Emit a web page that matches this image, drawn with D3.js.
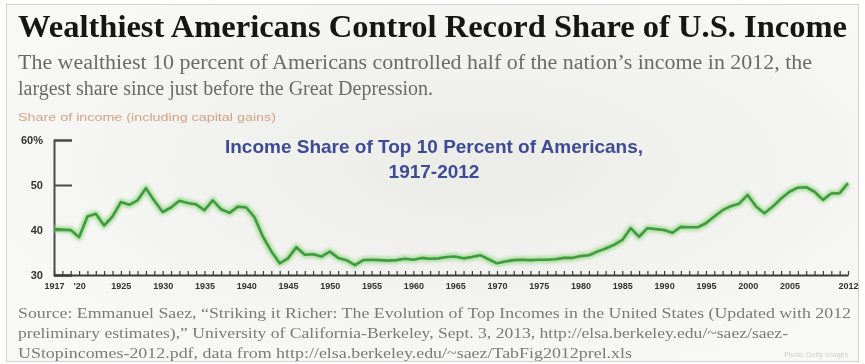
<!DOCTYPE html>
<html>
<head>
<meta charset="utf-8">
<script src="https://cdn.jsdelivr.net/npm/d3@7"></script>
<style>
  body { margin: 0; background: #ffffff; }
  svg { display: block; }
</style>
</head>
<body>
<svg id="chart" width="865" height="364"></svg>
<script>
// Income share of the top 10 percent (incl. capital gains), 1917-2012
const years = d3.range(1917, 2013);
const topTenShare = [
  40.2, 40.1, 40.0, 38.4, 43.0, 43.6, 41.0, 43.0, 46.2, 45.6,   // 1917-1926
  46.6, 49.3, 46.5, 44.0, 45.0, 46.5, 46.0, 45.7, 44.4, 46.6,   // 1927-1936
  44.6, 43.8, 45.2, 45.0, 42.8, 38.5, 35.3, 32.6, 33.7, 36.2,   // 1937-1946
  34.5, 34.6, 34.1, 35.2, 33.8, 33.3, 32.2, 33.3, 33.4, 33.3,   // 1947-1956
  33.2, 33.3, 33.6, 33.4, 33.8, 33.6, 33.7, 34.0, 34.1, 33.7,   // 1957-1966
  34.0, 34.4, 33.5, 32.6, 33.0, 33.3, 33.4, 33.3, 33.4, 33.4,   // 1967-1976
  33.5, 33.8, 33.8, 34.2, 34.4, 35.2, 35.9, 36.7, 37.8, 40.4,   // 1977-1986
  38.5, 40.4, 40.2, 40.0, 39.4, 40.7, 40.6, 40.6, 41.5, 43.0,   // 1987-1996
  44.4, 45.3, 45.9, 47.8, 45.2, 43.7, 45.2, 47.0, 48.5, 49.4,   // 1997-2006
  49.5, 48.5, 46.7, 48.1, 48.2, 50.4                            // 2007-2012
];

const yTicks = [30, 40, 50, 60];
const yTickLabels = ["30", "40", "50", "60%"];
const xTickYears = [1917, 1920, 1925, 1930, 1935, 1940, 1945, 1950, 1955, 1960,
                    1965, 1970, 1975, 1980, 1985, 1990, 1995, 2000, 2005, 2012];
const xTickLabels = ["1917", "'20", "1925", "1930", "1935", "1940", "1945", "1950", "1955", "1960",
                     "1965", "1970", "1975", "1980", "1985", "1990", "1995", "2000", "2005", "2012"];

const titleText = "Wealthiest Americans Control Record Share of U.S. Income";
const subtitleLines = [
  "The wealthiest 10 percent of Americans controlled half of the nation\u2019s income in 2012, the",
  "largest share since just before the Great Depression."
];
const axisTitleText = "Share of income (including capital gains)";
const chartHeadLines = ["Income Share of Top 10 Percent of Americans,", "1917-2012"];
const sourceLines = [
  "Source: Emmanuel Saez, \u201cStriking it Richer: The Evolution of Top Incomes in the United States (Updated with 2012",
  "preliminary estimates),\u201d University of California-Berkeley, Sept. 3, 2013, http://elsa.berkeley.edu/~saez/saez-",
  "UStopincomes-2012.pdf, data from http://elsa.berkeley.edu/~saez/TabFig2012prel.xls"
];
const creditText = "Photo: Getty Images";

const data = years.map((yr, i) => ({ year: yr, value: topTenShare[i] }));

const svg = d3.select("#chart");
const defs = svg.append("defs");

defs.append("filter").attr("id", "glow")
  .attr("x", "-5%").attr("y", "-20%").attr("width", "110%").attr("height", "140%")
  .append("feGaussianBlur").attr("stdDeviation", 1.8);

const haze = defs.append("radialGradient").attr("id", "haze")
  .attr("cx", "55%").attr("cy", "45%").attr("r", "60%");
haze.append("stop").attr("offset", "0%").attr("stop-color", "#ebebe8");
haze.append("stop").attr("offset", "100%").attr("stop-color", "#f8f8f6");

defs.append("filter").attr("id", "soft")
  .append("feGaussianBlur").attr("stdDeviation", 0.35);

// page frame
svg.append("rect")
  .attr("x", 0).attr("y", 0).attr("width", 865).attr("height", 364)
  .attr("fill", "#ffffff");
svg.append("rect")
  .attr("x", 6.5).attr("y", 4.5).attr("width", 852).attr("height", 357)
  .attr("fill", "url(#haze)").attr("stroke", "#d2d2d0").attr("stroke-width", 1);

const root = svg.append("g").attr("filter", "url(#soft)");

// headline and deck
root.append("text")
  .attr("x", 18).attr("y", 37)
  .attr("textLength", 829).attr("lengthAdjust", "spacingAndGlyphs")
  .style("font-family", "'Liberation Serif', 'DejaVu Serif', serif")
  .style("font-weight", "bold").style("font-size", "32px")
  .attr("fill", "#161616")
  .text(titleText);

root.selectAll("text.deck").data(subtitleLines).join("text")
  .attr("class", "deck")
  .attr("x", 18).attr("y", (d, i) => 69 + i * 26)
  .attr("textLength", (d, i) => i === 0 ? 794 : null)
  .attr("lengthAdjust", "spacingAndGlyphs")
  .style("font-family", "'Liberation Serif', serif").style("font-size", "20px")
  .attr("fill", "#6b6b6b")
  .text(d => d);

root.append("text")
  .attr("x", 18).attr("y", 121)
  .attr("textLength", 258).attr("lengthAdjust", "spacingAndGlyphs")
  .style("font-family", "'Liberation Sans', Arial, sans-serif").style("font-size", "11px")
  .attr("fill", "#d7a283")
  .text(axisTitleText);

// scales
const x = d3.scaleLinear().domain([1917, 2012]).range([54, 848]);
const y = d3.scaleLinear().domain([30, 60]).range([275, 140]);

// y axis
const yAxis = root.append("g")
  .attr("transform", `translate(${x(1917)},0)`)
  .call(d3.axisLeft(y).tickValues(yTicks).tickSize(-18).tickPadding(11)
    .tickFormat((d, i) => yTickLabels[i]));
yAxis.select(".domain").attr("stroke", "#4a4a4a").attr("stroke-width", 2);
yAxis.selectAll(".tick line").attr("stroke", "#4a4a4a").attr("stroke-width", 2);
yAxis.selectAll(".tick text")
  .style("font-family", "'Liberation Sans', Arial, sans-serif")
  .style("font-weight", "bold").style("font-size", "11px")
  .attr("fill", "#333");

// x axis: a tick for every year
const xMinor = root.append("g")
  .attr("transform", `translate(0,${y(30)})`)
  .call(d3.axisBottom(x).tickValues(years).tickSizeInner(-4).tickSizeOuter(0).tickFormat(""));
xMinor.select(".domain").attr("stroke", "#3a3a3a").attr("stroke-width", 2);
xMinor.selectAll(".tick line").attr("stroke", "#3a3a3a").attr("stroke-width", 1.2);

// x axis labels
const xLabels = root.append("g")
  .attr("transform", `translate(0,${y(30)})`)
  .call(d3.axisBottom(x).tickValues(xTickYears).tickSize(0).tickPadding(8)
    .tickFormat((d, i) => xTickLabels[i]));
xLabels.select(".domain").remove();
xLabels.selectAll(".tick text")
  .style("font-family", "'Liberation Sans', Arial, sans-serif")
  .style("font-weight", "bold").style("font-size", "9px")
  .attr("fill", "#333");

// in-chart heading
root.selectAll("text.head").data(chartHeadLines).join("text")
  .attr("class", "head")
  .attr("x", 434).attr("y", (d, i) => 153 + i * 25)
  .attr("text-anchor", "middle")
  .style("font-family", "'Liberation Sans', Arial, sans-serif")
  .style("font-weight", "bold").style("font-size", "19px")
  .attr("fill", "#3d4b96")
  .text(d => d);

// the series line with its soft green halo
const line = d3.line().x(d => x(d.year)).y(d => y(d.value)).curve(d3.curveLinear);
root.append("path").datum(data)
  .attr("d", line)
  .attr("fill", "none").attr("stroke", "#9ad88a").attr("stroke-width", 7)
  .attr("stroke-opacity", 0.75).attr("stroke-linejoin", "round")
  .attr("filter", "url(#glow)");
root.append("path").datum(data)
  .attr("d", line)
  .attr("fill", "none").attr("stroke", "#3f9a3f").attr("stroke-width", 2.6)
  .attr("stroke-linejoin", "round");

// source note
const sourceWidths = [833, 770, 614];
root.selectAll("text.src").data(sourceLines).join("text")
  .attr("class", "src")
  .attr("x", 18).attr("y", (d, i) => 318 + i * 20)
  .attr("textLength", (d, i) => sourceWidths[i])
  .attr("lengthAdjust", "spacingAndGlyphs")
  .style("font-family", "'Liberation Serif', serif").style("font-size", "15px")
  .attr("fill", "#7a7a7a")
  .text(d => d);

root.append("text")
  .attr("x", 848).attr("y", 357).attr("text-anchor", "end")
  .style("font-family", "'Liberation Sans', Arial, sans-serif").style("font-size", "7px")
  .attr("fill", "#cfcfcf")
  .text(creditText);
</script>
</body>
</html>
